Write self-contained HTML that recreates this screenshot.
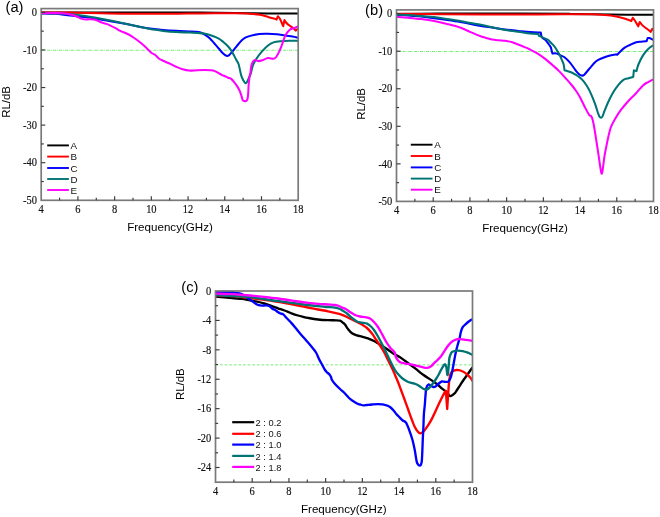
<!DOCTYPE html>
<html><head><meta charset="utf-8"><style>
html,body{margin:0;padding:0;background:#fff;}
body{width:660px;height:517px;overflow:hidden;font-family:"Liberation Sans",sans-serif;}
svg{display:block;}
.wc{will-change:transform;width:660px;height:517px;}
</style></head><body>
<div class="wc"><svg width="660" height="517" viewBox="0 0 660 517">
<defs><clipPath id="clipa"><rect x="41.20" y="7.60" width="257.00" height="192.70"/></clipPath><clipPath id="clipb"><rect x="396.50" y="8.90" width="257.00" height="192.50"/></clipPath><clipPath id="clipc"><rect x="215.50" y="290.00" width="257.00" height="192.20"/></clipPath></defs>
<rect width="660" height="517" fill="#fff"/>
<line x1="41.20" y1="50.25" x2="298.20" y2="50.25" stroke="#3ee83e" stroke-opacity="0.8" stroke-width="0.9" stroke-dasharray="3.2,0.9,0.7,1.1"/>
<line x1="396.50" y1="51.50" x2="653.50" y2="51.50" stroke="#3ee83e" stroke-opacity="0.8" stroke-width="0.9" stroke-dasharray="3.2,0.9,0.7,1.1"/>
<line x1="215.50" y1="364.84" x2="472.50" y2="364.84" stroke="#3ee83e" stroke-opacity="0.8" stroke-width="0.9" stroke-dasharray="2.6,2.0"/>
<path d="M41.30,12.60 C54.42,12.57 93.55,12.40 120.00,12.40 C146.45,12.40 178.33,12.45 200.00,12.60 C221.67,12.75 233.67,13.13 250.00,13.30 C266.33,13.47 290.00,13.55 298.00,13.60" fill="none" stroke="#000" stroke-width="2.05" stroke-linejoin="round" stroke-linecap="round" clip-path="url(#clipa)"/>
<path d="M41.30,12.40 C47.75,12.45 65.88,12.48 80.00,12.70 C94.12,12.92 111.00,13.52 126.00,13.70 C141.00,13.88 157.67,13.85 170.00,13.80 C182.33,13.75 189.12,13.50 200.00,13.40 C210.88,13.30 227.15,13.15 235.30,13.20 C243.45,13.25 244.82,13.43 248.90,13.70 C252.98,13.97 256.62,14.27 259.80,14.80 C262.98,15.33 265.63,16.27 268.00,16.90 C270.37,17.53 272.58,18.15 274.00,18.60 C275.42,19.05 276.08,19.43 276.50,19.60 L277.90,16.20 C278.25,16.67 279.12,17.33 280.00,19.00 C280.88,20.67 282.67,25.00 283.20,26.20 L284.40,20.10 C284.67,20.50 285.42,21.78 286.00,22.50 C286.58,23.22 287.32,23.90 287.90,24.40 C288.48,24.90 288.60,24.87 289.50,25.50 C290.40,26.13 292.27,27.35 293.30,28.20 C294.33,29.05 295.30,30.20 295.70,30.60 C296.02,30.33 297.22,29.30 297.60,29.00 C297.98,28.70 297.93,28.83 298.00,28.80" fill="none" stroke="#f00" stroke-width="2.05" stroke-linejoin="round" stroke-linecap="round" clip-path="url(#clipa)"/>
<path d="M41.30,13.40 C43.58,13.47 50.65,13.50 55.00,13.80 C59.35,14.10 63.57,14.77 67.40,15.20 C71.23,15.63 74.23,15.97 78.00,16.40 C81.77,16.83 86.57,17.33 90.00,17.80 C93.43,18.27 94.98,18.58 98.60,19.20 C102.22,19.82 107.47,20.77 111.70,21.50 C115.93,22.23 119.78,22.82 124.00,23.60 C128.22,24.38 132.67,25.37 137.00,26.20 C141.33,27.03 145.65,27.98 150.00,28.60 C154.35,29.22 158.75,29.53 163.10,29.90 C167.45,30.27 171.75,30.55 176.10,30.80 C180.45,31.05 186.05,31.25 189.20,31.40 C192.35,31.55 193.23,31.55 195.00,31.70 C196.77,31.85 198.10,31.78 199.80,32.30 C201.50,32.82 203.55,33.80 205.20,34.80 C206.85,35.80 208.20,36.90 209.70,38.30 C211.20,39.70 212.68,41.50 214.20,43.20 C215.72,44.90 217.40,46.87 218.80,48.50 C220.20,50.13 221.33,51.78 222.60,53.00 C223.87,54.22 225.30,55.45 226.40,55.80 C227.50,56.15 228.20,55.82 229.20,55.10 C230.20,54.38 231.10,53.05 232.40,51.50 C233.70,49.95 235.68,47.40 237.00,45.80 C238.32,44.20 239.30,42.98 240.30,41.90 C241.30,40.82 241.98,40.10 243.00,39.30 C244.02,38.50 244.58,37.83 246.40,37.10 C248.22,36.37 250.75,35.45 253.90,34.90 C257.05,34.35 261.50,33.92 265.30,33.80 C269.10,33.68 273.42,33.90 276.70,34.20 C279.98,34.50 282.37,35.20 285.00,35.60 C287.63,36.00 290.33,36.23 292.50,36.60 C294.67,36.97 297.08,37.60 298.00,37.80" fill="none" stroke="#00f" stroke-width="2.05" stroke-linejoin="round" stroke-linecap="round" clip-path="url(#clipa)"/>
<path d="M41.30,13.20 C44.33,13.25 54.28,13.28 59.50,13.50 C64.72,13.72 68.25,14.08 72.60,14.50 C76.95,14.92 81.27,15.38 85.60,16.00 C89.93,16.62 94.25,17.40 98.60,18.20 C102.95,19.00 107.47,19.93 111.70,20.80 C115.93,21.67 119.78,22.50 124.00,23.40 C128.22,24.30 132.67,25.25 137.00,26.20 C141.33,27.15 145.65,28.32 150.00,29.10 C154.35,29.88 158.75,30.40 163.10,30.90 C167.45,31.40 171.75,31.83 176.10,32.10 C180.45,32.37 185.62,32.35 189.20,32.50 C192.78,32.65 194.93,32.80 197.60,33.00 C200.27,33.20 202.68,33.20 205.20,33.70 C207.72,34.20 210.43,35.18 212.70,36.00 C214.97,36.82 217.03,37.60 218.80,38.60 C220.57,39.60 221.78,40.73 223.30,42.00 C224.82,43.27 226.63,44.87 227.90,46.20 C229.17,47.53 229.90,48.48 230.90,50.00 C231.90,51.52 233.02,53.67 233.90,55.30 C234.78,56.93 235.40,58.27 236.20,59.80 C237.00,61.33 237.87,61.90 238.70,64.50 C239.53,67.10 240.38,72.68 241.20,75.40 C242.02,78.12 242.88,79.50 243.60,80.80 C244.32,82.10 244.93,83.00 245.50,83.20 C246.07,83.40 246.42,82.92 247.00,82.00 C247.58,81.08 248.35,79.18 249.00,77.70 C249.65,76.22 250.23,75.18 250.90,73.10 C251.57,71.02 251.97,67.77 253.00,65.20 C254.03,62.63 255.52,60.08 257.10,57.70 C258.68,55.32 260.68,52.93 262.50,50.90 C264.32,48.87 266.17,46.92 268.00,45.50 C269.83,44.08 271.45,43.12 273.50,42.40 C275.55,41.68 277.58,41.48 280.30,41.20 C283.02,40.92 286.85,40.75 289.80,40.70 C292.75,40.65 296.63,40.87 298.00,40.90" fill="none" stroke="#007474" stroke-width="2.05" stroke-linejoin="round" stroke-linecap="round" clip-path="url(#clipa)"/>
<path d="M41.30,13.20 C43.25,13.18 49.43,13.08 53.00,13.10 C56.57,13.12 59.82,13.08 62.70,13.30 C65.58,13.52 68.02,13.90 70.30,14.40 C72.58,14.90 74.63,15.60 76.40,16.30 C78.17,17.00 79.38,18.08 80.90,18.60 C82.42,19.12 83.98,19.28 85.50,19.40 C87.02,19.52 88.25,19.20 90.00,19.30 C91.75,19.40 94.13,19.50 96.00,20.00 C97.87,20.50 99.45,21.65 101.20,22.30 C102.95,22.95 104.97,23.35 106.50,23.90 C108.03,24.45 108.88,24.88 110.40,25.60 C111.92,26.32 113.87,27.27 115.60,28.20 C117.33,29.13 119.07,30.35 120.80,31.20 C122.53,32.05 124.17,32.45 126.00,33.30 C127.83,34.15 130.07,35.27 131.80,36.30 C133.53,37.33 134.88,38.38 136.40,39.50 C137.92,40.62 139.38,41.75 140.90,43.00 C142.42,44.25 143.75,45.37 145.50,47.00 C147.25,48.63 149.77,51.47 151.40,52.80 C153.03,54.13 154.12,54.10 155.30,55.00 C156.48,55.90 157.20,57.23 158.50,58.20 C159.80,59.17 161.25,59.92 163.10,60.80 C164.95,61.68 167.43,62.52 169.60,63.50 C171.77,64.48 173.93,65.73 176.10,66.70 C178.27,67.67 180.42,68.65 182.60,69.30 C184.78,69.95 186.80,70.45 189.20,70.60 C191.60,70.75 194.40,70.30 197.00,70.20 C199.60,70.10 202.63,70.00 204.80,70.00 C206.97,70.00 208.33,70.02 210.00,70.20 C211.67,70.38 212.87,70.33 214.80,71.10 C216.73,71.87 219.90,73.95 221.60,74.80 C223.30,75.65 223.92,75.72 225.00,76.20 C226.08,76.68 227.07,77.25 228.10,77.70 C229.13,78.15 230.17,78.12 231.20,78.90 C232.23,79.68 233.27,81.12 234.30,82.40 C235.33,83.68 236.50,85.18 237.40,86.60 C238.30,88.02 239.00,89.28 239.70,90.90 C240.40,92.52 241.08,94.75 241.60,96.30 C242.12,97.85 242.15,99.37 242.80,100.20 C243.45,101.03 244.73,101.43 245.50,101.30 C246.27,101.17 246.95,100.75 247.40,99.40 C247.85,98.05 248.00,95.52 248.20,93.20 C248.40,90.88 248.40,88.08 248.60,85.50 C248.80,82.92 249.08,79.90 249.40,77.70 C249.72,75.50 250.13,74.50 250.50,72.30 C250.87,70.10 250.95,66.52 251.60,64.50 C252.25,62.48 253.25,60.77 254.40,60.20 C255.55,59.63 257.15,61.10 258.50,61.10 C259.85,61.10 260.92,60.72 262.50,60.20 C264.08,59.68 266.17,58.23 268.00,58.00 C269.83,57.77 272.13,58.97 273.50,58.80 C274.87,58.63 275.20,58.32 276.20,57.00 C277.20,55.68 278.50,53.05 279.50,50.90 C280.50,48.75 281.22,46.67 282.20,44.10 C283.18,41.53 284.13,37.88 285.40,35.50 C286.67,33.12 288.38,31.02 289.80,29.80 C291.22,28.58 292.53,28.77 293.90,28.20 C295.27,27.63 297.32,26.70 298.00,26.40" fill="none" stroke="#f0f" stroke-width="2.05" stroke-linejoin="round" stroke-linecap="round" clip-path="url(#clipa)"/>
<path d="M396.80,13.90 C405.67,13.85 429.47,13.65 450.00,13.60 C470.53,13.55 500.00,13.55 520.00,13.60 C540.00,13.65 555.00,13.73 570.00,13.90 C585.00,14.07 596.12,14.45 610.00,14.60 C623.88,14.75 646.08,14.77 653.30,14.80" fill="none" stroke="#000" stroke-width="2.05" stroke-linejoin="round" stroke-linecap="round" clip-path="url(#clipb)"/>
<path d="M396.80,13.80 C404.00,13.87 425.97,14.10 440.00,14.20 C454.03,14.30 467.67,14.33 481.00,14.40 C494.33,14.47 506.33,14.62 520.00,14.60 C533.67,14.58 551.18,14.35 563.00,14.30 C574.82,14.25 583.93,14.18 590.90,14.30 C597.87,14.42 600.62,14.65 604.80,15.00 C608.98,15.35 612.75,15.82 616.00,16.40 C619.25,16.98 621.75,17.73 624.30,18.50 C626.85,19.27 630.13,20.58 631.30,21.00 L632.70,17.80 C633.05,18.25 633.87,19.08 634.80,20.50 C635.73,21.92 637.72,25.33 638.30,26.30 L639.70,22.00 C640.17,22.57 641.58,24.48 642.50,25.40 C643.42,26.32 644.17,26.68 645.20,27.50 C646.23,28.32 647.77,29.58 648.70,30.30 C649.63,31.02 650.45,31.55 650.80,31.80 C651.03,31.32 651.78,29.20 652.20,28.90 C652.62,28.60 653.12,29.82 653.30,30.00" fill="none" stroke="#f00" stroke-width="2.05" stroke-linejoin="round" stroke-linecap="round" clip-path="url(#clipb)"/>
<path d="M396.80,15.00 C398.67,15.07 403.97,15.13 408.00,15.40 C412.03,15.67 416.65,16.13 421.00,16.60 C425.35,17.07 429.75,17.63 434.10,18.20 C438.45,18.77 442.75,19.37 447.10,20.00 C451.45,20.63 456.28,21.33 460.20,22.00 C464.12,22.67 467.13,23.33 470.60,24.00 C474.07,24.67 477.43,25.40 481.00,26.00 C484.57,26.60 487.98,27.02 492.00,27.60 C496.02,28.18 500.75,28.95 505.10,29.50 C509.45,30.05 513.95,30.47 518.10,30.90 C522.25,31.33 526.22,31.82 530.00,32.10 C533.78,32.38 539.00,32.52 540.80,32.60 C540.87,33.02 540.93,34.23 541.20,35.10 C541.47,35.97 541.68,36.97 542.40,37.80 C543.12,38.63 544.47,39.07 545.50,40.10 C546.53,41.13 547.70,42.78 548.60,44.00 C549.50,45.22 550.52,46.83 550.90,47.40 L552.40,53.60 C552.80,53.55 554.02,53.30 554.80,53.30 C555.58,53.30 556.07,53.22 557.10,53.60 C558.13,53.98 559.72,54.95 561.00,55.60 C562.28,56.25 563.30,56.33 564.80,57.50 C566.30,58.67 568.27,60.55 570.00,62.60 C571.73,64.65 573.68,67.85 575.20,69.80 C576.72,71.75 578.02,73.33 579.10,74.30 C580.18,75.27 580.83,75.53 581.70,75.60 C582.57,75.67 583.00,75.88 584.30,74.70 C585.60,73.52 587.53,70.73 589.50,68.50 C591.47,66.27 593.92,63.05 596.10,61.30 C598.28,59.55 600.43,58.93 602.60,58.00 C604.77,57.07 606.93,56.30 609.10,55.70 C611.27,55.10 614.25,54.55 615.60,54.40 C616.95,54.25 616.93,54.73 617.20,54.80 C617.80,54.15 619.55,52.10 620.80,50.90 C622.05,49.70 623.18,48.58 624.70,47.60 C626.22,46.62 628.10,45.83 629.90,45.00 C631.70,44.17 633.63,43.15 635.50,42.60 C637.37,42.05 639.25,41.93 641.10,41.70 C642.95,41.47 645.68,41.28 646.60,41.20 L647.70,38.00 C647.98,38.00 648.65,37.77 649.40,38.00 C650.15,38.23 651.55,39.10 652.20,39.40 C652.85,39.70 653.12,39.73 653.30,39.80" fill="none" stroke="#00f" stroke-width="2.05" stroke-linejoin="round" stroke-linecap="round" clip-path="url(#clipb)"/>
<path d="M396.80,14.80 C398.67,14.83 403.97,14.80 408.00,15.00 C412.03,15.20 416.65,15.65 421.00,16.00 C425.35,16.35 429.75,16.58 434.10,17.10 C438.45,17.62 442.75,18.45 447.10,19.10 C451.45,19.75 456.28,20.35 460.20,21.00 C464.12,21.65 467.13,22.37 470.60,23.00 C474.07,23.63 477.43,24.08 481.00,24.80 C484.57,25.52 487.98,26.45 492.00,27.30 C496.02,28.15 500.75,29.17 505.10,29.90 C509.45,30.63 513.95,31.08 518.10,31.70 C522.25,32.32 526.60,33.23 530.00,33.60 C533.40,33.97 537.08,33.85 538.50,33.90 L538.90,35.80 C539.48,36.07 540.92,36.75 542.40,37.40 C543.88,38.05 546.38,38.80 547.80,39.70 C549.22,40.60 549.87,41.77 550.90,42.80 C551.93,43.83 552.97,44.62 554.00,45.90 C555.03,47.18 556.07,48.82 557.10,50.50 C558.13,52.18 559.40,54.38 560.20,56.00 C561.00,57.62 561.33,58.83 561.90,60.20 C562.47,61.57 563.17,62.53 563.60,64.20 C564.03,65.87 564.35,69.20 564.50,70.20 C564.97,70.35 566.12,70.72 567.30,71.10 C568.48,71.48 570.15,71.87 571.60,72.50 C573.05,73.13 574.65,74.08 576.00,74.90 C577.35,75.72 578.57,76.48 579.70,77.40 C580.83,78.32 581.88,79.38 582.80,80.40 C583.72,81.42 584.38,82.35 585.20,83.50 C586.02,84.65 586.97,86.07 587.70,87.30 C588.43,88.53 588.77,89.15 589.60,90.90 C590.43,92.65 591.70,95.38 592.70,97.80 C593.70,100.22 594.70,102.80 595.60,105.40 C596.50,108.00 597.37,111.42 598.10,113.40 C598.83,115.38 599.32,116.70 600.00,117.30 C600.68,117.90 601.47,118.02 602.20,117.00 C602.93,115.98 603.43,113.62 604.40,111.20 C605.37,108.78 606.67,105.42 608.00,102.50 C609.33,99.58 610.70,96.58 612.40,93.70 C614.10,90.82 616.37,87.50 618.20,85.20 C620.03,82.90 621.67,81.07 623.40,79.90 C625.13,78.73 626.97,78.70 628.60,78.20 C630.23,77.70 632.43,77.12 633.20,76.90 L633.90,70.40 L636.50,71.10 C636.82,70.00 637.32,67.12 638.40,64.50 C639.48,61.88 641.37,58.00 643.00,55.40 C644.63,52.80 646.48,50.58 648.20,48.90 C649.92,47.22 652.45,45.90 653.30,45.30" fill="none" stroke="#007474" stroke-width="2.05" stroke-linejoin="round" stroke-linecap="round" clip-path="url(#clipb)"/>
<path d="M396.80,16.90 C398.67,17.05 403.97,17.43 408.00,17.80 C412.03,18.17 416.65,18.57 421.00,19.10 C425.35,19.63 429.75,20.20 434.10,21.00 C438.45,21.80 442.75,22.82 447.10,23.90 C451.45,24.98 456.28,26.13 460.20,27.50 C464.12,28.87 467.30,30.68 470.60,32.10 C473.90,33.52 477.52,35.07 480.00,36.00 C482.48,36.93 483.50,37.12 485.50,37.70 C487.50,38.28 489.83,39.07 492.00,39.50 C494.17,39.93 496.32,40.08 498.50,40.30 C500.68,40.52 502.92,40.50 505.10,40.80 C507.28,41.10 509.43,41.48 511.60,42.10 C513.77,42.72 515.93,43.67 518.10,44.50 C520.27,45.33 522.62,46.27 524.60,47.10 C526.58,47.93 527.82,48.42 530.00,49.50 C532.18,50.58 535.12,52.00 537.70,53.60 C540.28,55.20 543.02,57.17 545.50,59.10 C547.98,61.03 550.33,63.20 552.60,65.20 C554.87,67.20 556.93,68.93 559.10,71.10 C561.27,73.27 563.52,75.88 565.60,78.20 C567.68,80.52 569.87,82.90 571.60,85.00 C573.33,87.10 574.53,88.62 576.00,90.80 C577.47,92.98 578.95,95.43 580.40,98.10 C581.85,100.77 583.25,104.02 584.70,106.80 C586.15,109.58 588.00,113.22 589.10,114.80 C590.20,116.38 590.70,115.45 591.30,116.30 C591.90,117.15 592.22,118.08 592.70,119.90 C593.18,121.72 593.53,123.35 594.20,127.20 C594.87,131.05 595.95,138.18 596.70,143.00 C597.45,147.82 598.12,152.18 598.70,156.10 C599.28,160.02 599.73,163.60 600.20,166.50 C600.67,169.40 601.10,172.85 601.50,173.50 C601.90,174.15 602.10,173.30 602.60,170.40 C603.10,167.50 603.85,160.23 604.50,156.10 C605.15,151.97 605.85,148.87 606.50,145.60 C607.15,142.33 607.67,139.57 608.40,136.50 C609.13,133.43 609.75,130.20 610.90,127.20 C612.05,124.20 613.60,121.42 615.30,118.50 C617.00,115.58 618.92,112.62 621.10,109.70 C623.28,106.78 625.98,103.67 628.40,101.00 C630.82,98.33 633.17,96.30 635.60,93.70 C638.03,91.10 640.90,87.33 643.00,85.40 C645.10,83.47 646.48,83.08 648.20,82.10 C649.92,81.12 652.45,79.93 653.30,79.50" fill="none" stroke="#f0f" stroke-width="2.05" stroke-linejoin="round" stroke-linecap="round" clip-path="url(#clipb)"/>
<path d="M215.80,296.60 C217.17,296.73 221.27,297.15 224.00,297.40 C226.73,297.65 229.53,297.87 232.20,298.10 C234.87,298.33 237.70,298.57 240.00,298.80 C242.30,299.03 243.48,299.08 246.00,299.50 C248.52,299.92 252.07,300.63 255.10,301.30 C258.13,301.97 261.17,302.62 264.20,303.50 C267.23,304.38 271.00,305.80 273.30,306.60 C275.60,307.40 276.38,307.73 278.00,308.30 C279.62,308.87 281.33,309.42 283.00,310.00 C284.67,310.58 286.58,311.25 288.00,311.80 C289.42,312.35 289.83,312.68 291.50,313.30 C293.17,313.92 296.08,314.92 298.00,315.50 C299.92,316.08 301.33,316.40 303.00,316.80 C304.67,317.20 305.50,317.45 308.00,317.90 C310.50,318.35 314.67,319.12 318.00,319.50 C321.33,319.88 325.00,320.07 328.00,320.20 C331.00,320.33 334.00,320.22 336.00,320.30 C338.00,320.38 338.92,320.35 340.00,320.70 C341.08,321.05 341.67,321.75 342.50,322.40 C343.33,323.05 344.08,323.50 345.00,324.60 C345.92,325.70 346.83,327.57 348.00,329.00 C349.17,330.43 350.50,332.15 352.00,333.20 C353.50,334.25 355.33,334.73 357.00,335.30 C358.67,335.87 360.17,336.10 362.00,336.60 C363.83,337.10 366.00,337.57 368.00,338.30 C370.00,339.03 372.17,340.05 374.00,341.00 C375.83,341.95 377.33,343.00 379.00,344.00 C380.67,345.00 382.33,345.92 384.00,347.00 C385.67,348.08 387.33,349.33 389.00,350.50 C390.67,351.67 392.17,352.87 394.00,354.00 C395.83,355.13 397.72,355.83 400.00,357.30 C402.28,358.77 405.12,360.92 407.70,362.80 C410.28,364.68 412.92,366.60 415.50,368.60 C418.08,370.60 420.62,372.92 423.20,374.80 C425.78,376.68 428.68,378.33 431.00,379.90 C433.32,381.47 435.30,382.80 437.10,384.20 C438.90,385.60 440.50,387.22 441.80,388.30 C443.10,389.38 444.00,389.98 444.90,390.70 C445.80,391.42 446.55,391.88 447.20,392.60 C447.85,393.32 448.28,394.42 448.80,395.00 C449.32,395.58 449.67,396.10 450.30,396.10 C450.93,396.10 451.82,395.52 452.60,395.00 C453.38,394.48 454.22,393.92 455.00,393.00 C455.78,392.08 456.40,390.87 457.30,389.50 C458.20,388.13 459.37,386.38 460.40,384.80 C461.43,383.22 462.47,381.50 463.50,380.00 C464.53,378.50 465.53,377.30 466.60,375.80 C467.67,374.30 468.95,372.33 469.90,371.00 C470.85,369.67 471.90,368.33 472.30,367.80" fill="none" stroke="#000" stroke-width="2.35" stroke-linejoin="round" stroke-linecap="round" clip-path="url(#clipc)"/>
<path d="M215.80,295.30 C219.53,295.52 233.17,296.20 238.20,296.60 C243.23,297.00 243.37,297.38 246.00,297.70 C248.63,298.02 250.97,298.13 254.00,298.50 C257.03,298.87 261.03,299.48 264.20,299.90 C267.37,300.32 269.97,300.55 273.00,301.00 C276.03,301.45 279.90,302.17 282.40,302.60 C284.90,303.03 285.40,303.12 288.00,303.60 C290.60,304.08 294.67,304.85 298.00,305.50 C301.33,306.15 304.67,306.83 308.00,307.50 C311.33,308.17 314.67,308.87 318.00,309.50 C321.33,310.13 324.67,310.62 328.00,311.30 C331.33,311.98 335.67,313.02 338.00,313.60 C340.33,314.18 340.50,314.23 342.00,314.80 C343.50,315.37 345.33,316.22 347.00,317.00 C348.67,317.78 350.33,318.67 352.00,319.50 C353.67,320.33 355.33,321.15 357.00,322.00 C358.67,322.85 360.33,323.60 362.00,324.60 C363.67,325.60 365.33,326.52 367.00,328.00 C368.67,329.48 370.50,331.58 372.00,333.50 C373.50,335.42 374.67,337.50 376.00,339.50 C377.33,341.50 378.67,343.42 380.00,345.50 C381.33,347.58 382.67,349.58 384.00,352.00 C385.33,354.42 386.67,357.33 388.00,360.00 C389.33,362.67 390.83,365.50 392.00,368.00 C393.17,370.50 394.00,372.67 395.00,375.00 C396.00,377.33 397.00,379.50 398.00,382.00 C399.00,384.50 400.00,387.33 401.00,390.00 C402.00,392.67 402.83,394.83 404.00,398.00 C405.17,401.17 406.80,405.67 408.00,409.00 C409.20,412.33 410.08,415.03 411.20,418.00 C412.32,420.97 413.58,424.50 414.70,426.80 C415.82,429.10 416.97,430.72 417.90,431.80 C418.83,432.88 419.38,433.33 420.30,433.30 C421.22,433.27 422.17,432.83 423.40,431.60 C424.63,430.37 426.27,428.07 427.70,425.90 C429.13,423.73 430.70,421.05 432.00,418.60 C433.30,416.15 434.25,413.87 435.50,411.20 C436.75,408.53 438.32,405.08 439.50,402.60 C440.68,400.12 441.70,398.07 442.60,396.30 C443.50,394.53 444.35,392.83 444.90,392.00 C445.45,391.17 445.73,391.42 445.90,391.30 L447.20,409.00 C447.43,405.43 448.20,392.77 448.60,387.60 C449.00,382.43 449.15,380.52 449.60,378.00 C450.05,375.48 450.48,373.78 451.30,372.50 C452.12,371.22 453.25,370.68 454.50,370.30 C455.75,369.92 457.32,369.95 458.80,370.20 C460.28,370.45 461.98,371.07 463.40,371.80 C464.82,372.53 466.13,373.62 467.30,374.60 C468.47,375.58 469.57,376.70 470.40,377.70 C471.23,378.70 471.98,380.12 472.30,380.60" fill="none" stroke="#f00" stroke-width="2.35" stroke-linejoin="round" stroke-linecap="round" clip-path="url(#clipc)"/>
<path d="M215.80,292.20 C216.50,292.15 218.28,291.97 220.00,291.90 C221.72,291.83 224.43,291.78 226.10,291.80 C227.77,291.82 228.48,291.87 230.00,292.00 C231.52,292.13 233.32,292.28 235.20,292.60 C237.08,292.92 239.25,293.05 241.30,293.90 C243.35,294.75 245.80,296.57 247.50,297.70 C249.20,298.83 250.23,299.78 251.50,300.70 C252.77,301.62 253.90,302.45 255.10,303.20 C256.30,303.95 257.48,304.80 258.70,305.20 C259.92,305.60 261.18,305.57 262.40,305.60 C263.62,305.63 264.80,305.28 266.00,305.40 C267.20,305.52 268.53,305.75 269.60,306.30 C270.67,306.85 271.48,308.10 272.40,308.70 C273.32,309.30 274.20,309.35 275.10,309.90 C276.00,310.45 276.90,311.40 277.80,312.00 C278.70,312.60 279.58,313.10 280.50,313.50 C281.42,313.90 282.23,313.60 283.30,314.40 C284.37,315.20 285.53,316.85 286.90,318.30 C288.27,319.75 289.98,321.40 291.50,323.10 C293.02,324.80 294.50,326.68 296.00,328.50 C297.50,330.32 298.83,332.05 300.50,334.00 C302.17,335.95 304.25,338.20 306.00,340.20 C307.75,342.20 309.33,343.95 311.00,346.00 C312.67,348.05 314.67,350.33 316.00,352.50 C317.33,354.67 318.00,357.00 319.00,359.00 C320.00,361.00 321.00,362.67 322.00,364.50 C323.00,366.33 324.17,368.70 325.00,370.00 C325.83,371.30 326.25,371.55 327.00,372.30 C327.75,373.05 328.83,373.72 329.50,374.50 C330.17,375.28 330.58,376.08 331.00,377.00 C331.42,377.92 331.33,378.83 332.00,380.00 C332.67,381.17 333.67,382.50 335.00,384.00 C336.33,385.50 338.50,387.58 340.00,389.00 C341.50,390.42 342.50,391.00 344.00,392.50 C345.50,394.00 347.50,396.58 349.00,398.00 C350.50,399.42 351.67,400.08 353.00,401.00 C354.33,401.92 355.83,402.92 357.00,403.50 C358.17,404.08 358.92,404.18 360.00,404.50 C361.08,404.82 362.33,405.32 363.50,405.40 C364.67,405.48 365.58,405.15 367.00,405.00 C368.42,404.85 370.17,404.65 372.00,404.50 C373.83,404.35 376.33,404.12 378.00,404.10 C379.67,404.08 380.83,404.25 382.00,404.40 C383.17,404.55 383.67,404.57 385.00,405.00 C386.33,405.43 388.50,406.00 390.00,407.00 C391.50,408.00 392.95,409.83 394.00,411.00 C395.05,412.17 395.38,412.95 396.30,414.00 C397.22,415.05 398.42,416.22 399.50,417.30 C400.58,418.38 401.72,419.60 402.80,420.50 C403.88,421.40 404.92,421.07 406.00,422.70 C407.08,424.33 408.22,427.42 409.30,430.30 C410.38,433.18 411.60,436.75 412.50,440.00 C413.40,443.25 414.07,446.55 414.70,449.80 C415.33,453.05 415.85,457.22 416.30,459.50 C416.75,461.78 416.77,462.50 417.40,463.50 C418.03,464.50 419.38,465.80 420.10,465.50 C420.82,465.20 421.33,463.97 421.70,461.70 C422.07,459.43 422.12,455.70 422.30,451.90 C422.48,448.10 422.62,443.05 422.80,438.90 C422.98,434.75 423.22,431.15 423.40,427.00 C423.58,422.85 423.67,417.67 423.90,414.00 C424.13,410.33 424.53,408.12 424.80,405.00 C425.07,401.88 425.25,398.13 425.50,395.30 C425.75,392.47 425.83,389.78 426.30,388.00 C426.77,386.22 427.65,385.05 428.30,384.60 C428.95,384.15 429.37,384.90 430.20,385.30 C431.03,385.70 432.40,386.82 433.30,387.00 C434.20,387.18 434.70,386.98 435.60,386.40 C436.50,385.82 437.67,384.32 438.70,383.50 C439.73,382.68 440.77,381.78 441.80,381.50 C442.83,381.22 443.87,381.75 444.90,381.80 C445.93,381.85 447.22,382.13 448.00,381.80 C448.78,381.47 449.12,380.60 449.60,379.80 C450.08,379.00 450.50,378.22 450.90,377.00 C451.30,375.78 451.58,374.50 452.00,372.50 C452.42,370.50 452.82,368.13 453.40,365.00 C453.98,361.87 454.82,356.95 455.50,353.70 C456.18,350.45 456.82,348.08 457.50,345.50 C458.18,342.92 459.05,340.40 459.60,338.20 C460.15,336.00 460.28,334.13 460.80,332.30 C461.32,330.47 461.87,328.57 462.70,327.20 C463.53,325.83 464.78,325.05 465.80,324.10 C466.82,323.15 467.77,322.28 468.80,321.50 C469.83,320.72 471.47,319.75 472.00,319.40" fill="none" stroke="#00f" stroke-width="2.35" stroke-linejoin="round" stroke-linecap="round" clip-path="url(#clipc)"/>
<path d="M215.80,295.20 C219.50,295.38 232.97,296.03 238.00,296.30 C243.03,296.57 243.33,296.60 246.00,296.80 C248.67,297.00 251.00,297.13 254.00,297.50 C257.00,297.87 260.78,298.50 264.00,299.00 C267.22,299.50 270.97,300.17 273.30,300.50 C275.63,300.83 275.55,300.70 278.00,301.00 C280.45,301.30 284.67,301.85 288.00,302.30 C291.33,302.75 294.67,303.25 298.00,303.70 C301.33,304.15 304.67,304.58 308.00,305.00 C311.33,305.42 314.67,305.87 318.00,306.20 C321.33,306.53 325.17,306.77 328.00,307.00 C330.83,307.23 333.00,307.27 335.00,307.60 C337.00,307.93 338.83,308.55 340.00,309.00 C341.17,309.45 340.83,309.55 342.00,310.30 C343.17,311.05 345.33,312.22 347.00,313.50 C348.67,314.78 350.33,316.67 352.00,318.00 C353.67,319.33 355.33,320.73 357.00,321.50 C358.67,322.27 360.33,322.23 362.00,322.60 C363.67,322.97 365.50,323.05 367.00,323.70 C368.50,324.35 369.83,325.45 371.00,326.50 C372.17,327.55 372.83,328.33 374.00,330.00 C375.17,331.67 376.67,334.17 378.00,336.50 C379.33,338.83 380.83,341.75 382.00,344.00 C383.17,346.25 383.83,347.58 385.00,350.00 C386.17,352.42 387.75,355.92 389.00,358.50 C390.25,361.08 391.48,363.53 392.50,365.50 C393.52,367.47 394.03,368.72 395.10,370.30 C396.17,371.88 397.62,373.58 398.90,375.00 C400.18,376.42 401.33,377.68 402.80,378.80 C404.27,379.92 406.23,381.02 407.70,381.70 C409.17,382.38 410.30,382.52 411.60,382.90 C412.90,383.28 414.22,383.48 415.50,384.00 C416.78,384.52 418.02,385.22 419.30,386.00 C420.58,386.78 421.92,388.12 423.20,388.70 C424.48,389.28 425.87,389.78 427.00,389.50 C428.13,389.22 429.00,388.03 430.00,387.00 C431.00,385.97 432.00,384.63 433.00,383.30 C434.00,381.97 435.00,380.55 436.00,379.00 C437.00,377.45 438.17,375.50 439.00,374.00 C439.83,372.50 440.28,371.32 441.00,370.00 C441.72,368.68 442.62,367.07 443.30,366.10 C443.98,365.13 444.58,363.95 445.10,364.20 C445.62,364.45 446.03,365.88 446.40,367.60 C446.77,369.32 447.05,373.47 447.30,374.50 C447.55,375.53 447.67,375.20 447.90,373.80 C448.13,372.40 448.47,368.65 448.70,366.10 C448.93,363.55 449.00,360.43 449.30,358.50 C449.60,356.57 449.98,355.62 450.50,354.50 C451.02,353.38 451.23,352.45 452.40,351.80 C453.57,351.15 455.78,350.72 457.50,350.60 C459.22,350.48 460.98,350.75 462.70,351.10 C464.42,351.45 466.25,352.10 467.80,352.70 C469.35,353.30 471.30,354.37 472.00,354.70" fill="none" stroke="#007474" stroke-width="2.35" stroke-linejoin="round" stroke-linecap="round" clip-path="url(#clipc)"/>
<path d="M215.80,293.60 C218.53,293.70 227.17,293.93 232.20,294.20 C237.23,294.47 242.37,294.92 246.00,295.20 C249.63,295.48 250.17,295.52 254.00,295.90 C257.83,296.28 265.00,297.07 269.00,297.50 C273.00,297.93 274.83,298.08 278.00,298.50 C281.17,298.92 284.67,299.50 288.00,300.00 C291.33,300.50 294.67,301.03 298.00,301.50 C301.33,301.97 304.67,302.42 308.00,302.80 C311.33,303.18 314.67,303.52 318.00,303.80 C321.33,304.08 325.17,304.30 328.00,304.50 C330.83,304.70 333.17,304.75 335.00,305.00 C336.83,305.25 337.83,305.57 339.00,306.00 C340.17,306.43 340.83,307.07 342.00,307.60 C343.17,308.13 344.67,308.47 346.00,309.20 C347.33,309.93 348.50,311.03 350.00,312.00 C351.50,312.97 353.33,314.25 355.00,315.00 C356.67,315.75 358.17,316.12 360.00,316.50 C361.83,316.88 364.33,316.95 366.00,317.30 C367.67,317.65 368.67,317.82 370.00,318.60 C371.33,319.38 372.67,320.60 374.00,322.00 C375.33,323.40 377.00,325.58 378.00,327.00 C379.00,328.42 379.33,329.33 380.00,330.50 C380.67,331.67 381.00,332.17 382.00,334.00 C383.00,335.83 384.67,339.25 386.00,341.50 C387.33,343.75 388.83,346.00 390.00,347.50 C391.17,349.00 392.17,349.58 393.00,350.50 C393.83,351.42 394.58,352.08 395.00,353.00 C395.42,353.92 395.10,354.90 395.50,356.00 C395.90,357.10 396.70,358.60 397.40,359.60 C398.10,360.60 398.67,361.40 399.70,362.00 C400.73,362.60 402.27,362.88 403.60,363.20 C404.93,363.52 405.72,363.52 407.70,363.90 C409.68,364.28 412.92,364.92 415.50,365.50 C418.08,366.08 421.27,367.02 423.20,367.40 C425.13,367.78 425.80,368.00 427.10,367.80 C428.40,367.60 429.72,367.10 431.00,366.20 C432.28,365.30 433.30,363.83 434.80,362.40 C436.30,360.97 438.45,359.40 440.00,357.60 C441.55,355.80 442.73,353.62 444.10,351.60 C445.47,349.58 446.82,347.22 448.20,345.50 C449.58,343.78 451.02,342.33 452.40,341.30 C453.78,340.27 455.13,339.67 456.50,339.30 C457.87,338.93 459.05,339.02 460.60,339.10 C462.15,339.18 463.90,339.52 465.80,339.80 C467.70,340.08 470.97,340.63 472.00,340.80" fill="none" stroke="#f0f" stroke-width="2.35" stroke-linejoin="round" stroke-linecap="round" clip-path="url(#clipc)"/>
<text x="5.5" y="11.7" font-family="Liberation Sans, sans-serif" font-size="14.7">(a)</text>
<text x="365.1" y="14.7" font-family="Liberation Sans, sans-serif" font-size="14.7">(b)</text>
<text x="181.3" y="291.7" font-family="Liberation Sans, sans-serif" font-size="14.7">(c)</text>
<text transform="translate(9.6,102) rotate(-90)" text-anchor="middle" font-family="Liberation Sans, sans-serif" font-size="11.4">RL/dB</text>
<text transform="translate(364.8,104) rotate(-90)" text-anchor="middle" font-family="Liberation Sans, sans-serif" font-size="11.4">RL/dB</text>
<text transform="translate(184.2,384.2) rotate(-90)" text-anchor="middle" font-family="Liberation Sans, sans-serif" font-size="11.4">RL/dB</text>
<text x="170" y="230.9" text-anchor="middle" font-family="Liberation Sans, sans-serif" font-size="11.6">Frequency(GHz)</text>
<text x="525" y="232.3" text-anchor="middle" font-family="Liberation Sans, sans-serif" font-size="11.6">Frequency(GHz)</text>
<text x="343.8" y="513.3" text-anchor="middle" font-family="Liberation Sans, sans-serif" font-size="11.6">Frequency(GHz)</text>
<line x1="47.2" y1="145.4" x2="68.9" y2="145.4" stroke="#000" stroke-width="1.9"/>
<text x="70.4" y="149.00" font-family="Liberation Sans, sans-serif" font-size="9.8" fill="#111">A</text>
<line x1="47.2" y1="156.6" x2="68.9" y2="156.6" stroke="#f00" stroke-width="1.9"/>
<text x="70.4" y="160.20" font-family="Liberation Sans, sans-serif" font-size="9.8" fill="#111">B</text>
<line x1="47.2" y1="168" x2="68.9" y2="168" stroke="#00f" stroke-width="1.9"/>
<text x="70.4" y="171.60" font-family="Liberation Sans, sans-serif" font-size="9.8" fill="#111">C</text>
<line x1="47.2" y1="179" x2="68.9" y2="179" stroke="#007474" stroke-width="1.9"/>
<text x="70.4" y="182.60" font-family="Liberation Sans, sans-serif" font-size="9.8" fill="#111">D</text>
<line x1="47.2" y1="190" x2="68.9" y2="190" stroke="#f0f" stroke-width="1.9"/>
<text x="70.4" y="193.60" font-family="Liberation Sans, sans-serif" font-size="9.8" fill="#111">E</text>
<line x1="410.8" y1="144.7" x2="432.5" y2="144.7" stroke="#000" stroke-width="1.9"/>
<text x="434.2" y="148.30" font-family="Liberation Sans, sans-serif" font-size="9.8" fill="#111">A</text>
<line x1="410.8" y1="156.0" x2="432.5" y2="156.0" stroke="#f00" stroke-width="1.9"/>
<text x="434.2" y="159.60" font-family="Liberation Sans, sans-serif" font-size="9.8" fill="#111">B</text>
<line x1="410.8" y1="167.4" x2="432.5" y2="167.4" stroke="#00f" stroke-width="1.9"/>
<text x="434.2" y="171.00" font-family="Liberation Sans, sans-serif" font-size="9.8" fill="#111">C</text>
<line x1="410.8" y1="178.6" x2="432.5" y2="178.6" stroke="#007474" stroke-width="1.9"/>
<text x="434.2" y="182.20" font-family="Liberation Sans, sans-serif" font-size="9.8" fill="#111">D</text>
<line x1="410.8" y1="189.7" x2="432.5" y2="189.7" stroke="#f0f" stroke-width="1.9"/>
<text x="434.2" y="193.30" font-family="Liberation Sans, sans-serif" font-size="9.8" fill="#111">E</text>
<line x1="232.2" y1="422.2" x2="254.2" y2="422.2" stroke="#000" stroke-width="2.2"/>
<text x="255.6" y="425.80" font-family="Liberation Sans, sans-serif" font-size="9.3" fill="#111">2 : 0.2</text>
<line x1="232.2" y1="433.8" x2="254.2" y2="433.8" stroke="#f00" stroke-width="2.2"/>
<text x="255.6" y="437.40" font-family="Liberation Sans, sans-serif" font-size="9.3" fill="#111">2 : 0.6</text>
<line x1="232.2" y1="444.6" x2="254.2" y2="444.6" stroke="#00f" stroke-width="2.2"/>
<text x="255.6" y="448.20" font-family="Liberation Sans, sans-serif" font-size="9.3" fill="#111">2 : 1.0</text>
<line x1="232.2" y1="455.9" x2="254.2" y2="455.9" stroke="#007474" stroke-width="2.2"/>
<text x="255.6" y="459.50" font-family="Liberation Sans, sans-serif" font-size="9.3" fill="#111">2 : 1.4</text>
<line x1="232.2" y1="466.9" x2="254.2" y2="466.9" stroke="#f0f" stroke-width="2.2"/>
<text x="255.6" y="470.50" font-family="Liberation Sans, sans-serif" font-size="9.3" fill="#111">2 : 1.8</text>
<rect x="41.20" y="8.60" width="257.00" height="191.70" fill="none" stroke="#7a7a7a" stroke-width="1.7"/>
<rect x="396.50" y="9.90" width="257.00" height="191.50" fill="none" stroke="#7a7a7a" stroke-width="1.7"/>
<rect x="215.50" y="291.00" width="257.00" height="191.20" fill="none" stroke="#7a7a7a" stroke-width="1.7"/>
<text transform="translate(41.20,212.90) scale(0.95,1.08)" text-anchor="middle" font-family="Liberation Serif, serif" font-size="11" fill="#111" stroke="#111" stroke-width="0.16">4</text>
<line x1="59.56" y1="200.30" x2="59.56" y2="197.70" stroke="#3a3a3a" stroke-width="1.15"/>
<line x1="77.91" y1="200.30" x2="77.91" y2="196.20" stroke="#3a3a3a" stroke-width="1.15"/>
<text transform="translate(77.91,212.90) scale(0.95,1.08)" text-anchor="middle" font-family="Liberation Serif, serif" font-size="11" fill="#111" stroke="#111" stroke-width="0.16">6</text>
<line x1="96.27" y1="200.30" x2="96.27" y2="197.70" stroke="#3a3a3a" stroke-width="1.15"/>
<line x1="114.63" y1="200.30" x2="114.63" y2="196.20" stroke="#3a3a3a" stroke-width="1.15"/>
<text transform="translate(114.63,212.90) scale(0.95,1.08)" text-anchor="middle" font-family="Liberation Serif, serif" font-size="11" fill="#111" stroke="#111" stroke-width="0.16">8</text>
<line x1="132.99" y1="200.30" x2="132.99" y2="197.70" stroke="#3a3a3a" stroke-width="1.15"/>
<line x1="151.34" y1="200.30" x2="151.34" y2="196.20" stroke="#3a3a3a" stroke-width="1.15"/>
<text transform="translate(151.34,212.90) scale(0.95,1.08)" text-anchor="middle" font-family="Liberation Serif, serif" font-size="11" fill="#111" stroke="#111" stroke-width="0.16">10</text>
<line x1="169.70" y1="200.30" x2="169.70" y2="197.70" stroke="#3a3a3a" stroke-width="1.15"/>
<line x1="188.06" y1="200.30" x2="188.06" y2="196.20" stroke="#3a3a3a" stroke-width="1.15"/>
<text transform="translate(188.06,212.90) scale(0.95,1.08)" text-anchor="middle" font-family="Liberation Serif, serif" font-size="11" fill="#111" stroke="#111" stroke-width="0.16">12</text>
<line x1="206.41" y1="200.30" x2="206.41" y2="197.70" stroke="#3a3a3a" stroke-width="1.15"/>
<line x1="224.77" y1="200.30" x2="224.77" y2="196.20" stroke="#3a3a3a" stroke-width="1.15"/>
<text transform="translate(224.77,212.90) scale(0.95,1.08)" text-anchor="middle" font-family="Liberation Serif, serif" font-size="11" fill="#111" stroke="#111" stroke-width="0.16">14</text>
<line x1="243.13" y1="200.30" x2="243.13" y2="197.70" stroke="#3a3a3a" stroke-width="1.15"/>
<line x1="261.49" y1="200.30" x2="261.49" y2="196.20" stroke="#3a3a3a" stroke-width="1.15"/>
<text transform="translate(261.49,212.90) scale(0.95,1.08)" text-anchor="middle" font-family="Liberation Serif, serif" font-size="11" fill="#111" stroke="#111" stroke-width="0.16">16</text>
<line x1="279.84" y1="200.30" x2="279.84" y2="197.70" stroke="#3a3a3a" stroke-width="1.15"/>
<text transform="translate(298.20,212.90) scale(0.95,1.08)" text-anchor="middle" font-family="Liberation Serif, serif" font-size="11" fill="#111" stroke="#111" stroke-width="0.16">18</text>
<line x1="41.20" y1="12.36" x2="45.30" y2="12.36" stroke="#3a3a3a" stroke-width="1.15"/>
<text transform="translate(37.00,16.06) scale(0.95,1.08)" text-anchor="end" font-family="Liberation Serif, serif" font-size="11" fill="#111" stroke="#111" stroke-width="0.16">0</text>
<line x1="41.20" y1="49.95" x2="45.30" y2="49.95" stroke="#3a3a3a" stroke-width="1.15"/>
<text transform="translate(37.00,53.65) scale(0.95,1.08)" text-anchor="end" font-family="Liberation Serif, serif" font-size="11" fill="#111" stroke="#111" stroke-width="0.16">-10</text>
<line x1="41.20" y1="87.54" x2="45.30" y2="87.54" stroke="#3a3a3a" stroke-width="1.15"/>
<text transform="translate(37.00,91.24) scale(0.95,1.08)" text-anchor="end" font-family="Liberation Serif, serif" font-size="11" fill="#111" stroke="#111" stroke-width="0.16">-20</text>
<line x1="41.20" y1="125.12" x2="45.30" y2="125.12" stroke="#3a3a3a" stroke-width="1.15"/>
<text transform="translate(37.00,128.82) scale(0.95,1.08)" text-anchor="end" font-family="Liberation Serif, serif" font-size="11" fill="#111" stroke="#111" stroke-width="0.16">-30</text>
<line x1="41.20" y1="162.71" x2="45.30" y2="162.71" stroke="#3a3a3a" stroke-width="1.15"/>
<text transform="translate(37.00,166.41) scale(0.95,1.08)" text-anchor="end" font-family="Liberation Serif, serif" font-size="11" fill="#111" stroke="#111" stroke-width="0.16">-40</text>
<text transform="translate(37.00,204.00) scale(0.95,1.08)" text-anchor="end" font-family="Liberation Serif, serif" font-size="11" fill="#111" stroke="#111" stroke-width="0.16">-50</text>
<line x1="41.20" y1="31.15" x2="43.80" y2="31.15" stroke="#3a3a3a" stroke-width="1.15"/>
<line x1="41.20" y1="68.74" x2="43.80" y2="68.74" stroke="#3a3a3a" stroke-width="1.15"/>
<line x1="41.20" y1="106.33" x2="43.80" y2="106.33" stroke="#3a3a3a" stroke-width="1.15"/>
<line x1="41.20" y1="143.92" x2="43.80" y2="143.92" stroke="#3a3a3a" stroke-width="1.15"/>
<line x1="41.20" y1="181.51" x2="43.80" y2="181.51" stroke="#3a3a3a" stroke-width="1.15"/>
<text transform="translate(396.50,214.00) scale(0.95,1.08)" text-anchor="middle" font-family="Liberation Serif, serif" font-size="11" fill="#111" stroke="#111" stroke-width="0.16">4</text>
<line x1="414.86" y1="201.40" x2="414.86" y2="198.80" stroke="#3a3a3a" stroke-width="1.15"/>
<line x1="433.21" y1="201.40" x2="433.21" y2="197.30" stroke="#3a3a3a" stroke-width="1.15"/>
<text transform="translate(433.21,214.00) scale(0.95,1.08)" text-anchor="middle" font-family="Liberation Serif, serif" font-size="11" fill="#111" stroke="#111" stroke-width="0.16">6</text>
<line x1="451.57" y1="201.40" x2="451.57" y2="198.80" stroke="#3a3a3a" stroke-width="1.15"/>
<line x1="469.93" y1="201.40" x2="469.93" y2="197.30" stroke="#3a3a3a" stroke-width="1.15"/>
<text transform="translate(469.93,214.00) scale(0.95,1.08)" text-anchor="middle" font-family="Liberation Serif, serif" font-size="11" fill="#111" stroke="#111" stroke-width="0.16">8</text>
<line x1="488.29" y1="201.40" x2="488.29" y2="198.80" stroke="#3a3a3a" stroke-width="1.15"/>
<line x1="506.64" y1="201.40" x2="506.64" y2="197.30" stroke="#3a3a3a" stroke-width="1.15"/>
<text transform="translate(506.64,214.00) scale(0.95,1.08)" text-anchor="middle" font-family="Liberation Serif, serif" font-size="11" fill="#111" stroke="#111" stroke-width="0.16">10</text>
<line x1="525.00" y1="201.40" x2="525.00" y2="198.80" stroke="#3a3a3a" stroke-width="1.15"/>
<line x1="543.36" y1="201.40" x2="543.36" y2="197.30" stroke="#3a3a3a" stroke-width="1.15"/>
<text transform="translate(543.36,214.00) scale(0.95,1.08)" text-anchor="middle" font-family="Liberation Serif, serif" font-size="11" fill="#111" stroke="#111" stroke-width="0.16">12</text>
<line x1="561.71" y1="201.40" x2="561.71" y2="198.80" stroke="#3a3a3a" stroke-width="1.15"/>
<line x1="580.07" y1="201.40" x2="580.07" y2="197.30" stroke="#3a3a3a" stroke-width="1.15"/>
<text transform="translate(580.07,214.00) scale(0.95,1.08)" text-anchor="middle" font-family="Liberation Serif, serif" font-size="11" fill="#111" stroke="#111" stroke-width="0.16">14</text>
<line x1="598.43" y1="201.40" x2="598.43" y2="198.80" stroke="#3a3a3a" stroke-width="1.15"/>
<line x1="616.79" y1="201.40" x2="616.79" y2="197.30" stroke="#3a3a3a" stroke-width="1.15"/>
<text transform="translate(616.79,214.00) scale(0.95,1.08)" text-anchor="middle" font-family="Liberation Serif, serif" font-size="11" fill="#111" stroke="#111" stroke-width="0.16">16</text>
<line x1="635.14" y1="201.40" x2="635.14" y2="198.80" stroke="#3a3a3a" stroke-width="1.15"/>
<text transform="translate(653.50,214.00) scale(0.95,1.08)" text-anchor="middle" font-family="Liberation Serif, serif" font-size="11" fill="#111" stroke="#111" stroke-width="0.16">18</text>
<line x1="396.50" y1="13.65" x2="400.60" y2="13.65" stroke="#3a3a3a" stroke-width="1.15"/>
<text transform="translate(392.30,17.35) scale(0.95,1.08)" text-anchor="end" font-family="Liberation Serif, serif" font-size="11" fill="#111" stroke="#111" stroke-width="0.16">0</text>
<line x1="396.50" y1="51.20" x2="400.60" y2="51.20" stroke="#3a3a3a" stroke-width="1.15"/>
<text transform="translate(392.30,54.90) scale(0.95,1.08)" text-anchor="end" font-family="Liberation Serif, serif" font-size="11" fill="#111" stroke="#111" stroke-width="0.16">-10</text>
<line x1="396.50" y1="88.75" x2="400.60" y2="88.75" stroke="#3a3a3a" stroke-width="1.15"/>
<text transform="translate(392.30,92.45) scale(0.95,1.08)" text-anchor="end" font-family="Liberation Serif, serif" font-size="11" fill="#111" stroke="#111" stroke-width="0.16">-20</text>
<line x1="396.50" y1="126.30" x2="400.60" y2="126.30" stroke="#3a3a3a" stroke-width="1.15"/>
<text transform="translate(392.30,130.00) scale(0.95,1.08)" text-anchor="end" font-family="Liberation Serif, serif" font-size="11" fill="#111" stroke="#111" stroke-width="0.16">-30</text>
<line x1="396.50" y1="163.85" x2="400.60" y2="163.85" stroke="#3a3a3a" stroke-width="1.15"/>
<text transform="translate(392.30,167.55) scale(0.95,1.08)" text-anchor="end" font-family="Liberation Serif, serif" font-size="11" fill="#111" stroke="#111" stroke-width="0.16">-40</text>
<text transform="translate(392.30,205.10) scale(0.95,1.08)" text-anchor="end" font-family="Liberation Serif, serif" font-size="11" fill="#111" stroke="#111" stroke-width="0.16">-50</text>
<line x1="396.50" y1="32.43" x2="399.10" y2="32.43" stroke="#3a3a3a" stroke-width="1.15"/>
<line x1="396.50" y1="69.98" x2="399.10" y2="69.98" stroke="#3a3a3a" stroke-width="1.15"/>
<line x1="396.50" y1="107.53" x2="399.10" y2="107.53" stroke="#3a3a3a" stroke-width="1.15"/>
<line x1="396.50" y1="145.08" x2="399.10" y2="145.08" stroke="#3a3a3a" stroke-width="1.15"/>
<line x1="396.50" y1="182.63" x2="399.10" y2="182.63" stroke="#3a3a3a" stroke-width="1.15"/>
<text transform="translate(215.50,494.80) scale(0.95,1.08)" text-anchor="middle" font-family="Liberation Serif, serif" font-size="11" fill="#111" stroke="#111" stroke-width="0.16">4</text>
<line x1="233.86" y1="482.20" x2="233.86" y2="479.60" stroke="#3a3a3a" stroke-width="1.15"/>
<line x1="252.21" y1="482.20" x2="252.21" y2="478.10" stroke="#3a3a3a" stroke-width="1.15"/>
<text transform="translate(252.21,494.80) scale(0.95,1.08)" text-anchor="middle" font-family="Liberation Serif, serif" font-size="11" fill="#111" stroke="#111" stroke-width="0.16">6</text>
<line x1="270.57" y1="482.20" x2="270.57" y2="479.60" stroke="#3a3a3a" stroke-width="1.15"/>
<line x1="288.93" y1="482.20" x2="288.93" y2="478.10" stroke="#3a3a3a" stroke-width="1.15"/>
<text transform="translate(288.93,494.80) scale(0.95,1.08)" text-anchor="middle" font-family="Liberation Serif, serif" font-size="11" fill="#111" stroke="#111" stroke-width="0.16">8</text>
<line x1="307.29" y1="482.20" x2="307.29" y2="479.60" stroke="#3a3a3a" stroke-width="1.15"/>
<line x1="325.64" y1="482.20" x2="325.64" y2="478.10" stroke="#3a3a3a" stroke-width="1.15"/>
<text transform="translate(325.64,494.80) scale(0.95,1.08)" text-anchor="middle" font-family="Liberation Serif, serif" font-size="11" fill="#111" stroke="#111" stroke-width="0.16">10</text>
<line x1="344.00" y1="482.20" x2="344.00" y2="479.60" stroke="#3a3a3a" stroke-width="1.15"/>
<line x1="362.36" y1="482.20" x2="362.36" y2="478.10" stroke="#3a3a3a" stroke-width="1.15"/>
<text transform="translate(362.36,494.80) scale(0.95,1.08)" text-anchor="middle" font-family="Liberation Serif, serif" font-size="11" fill="#111" stroke="#111" stroke-width="0.16">12</text>
<line x1="380.71" y1="482.20" x2="380.71" y2="479.60" stroke="#3a3a3a" stroke-width="1.15"/>
<line x1="399.07" y1="482.20" x2="399.07" y2="478.10" stroke="#3a3a3a" stroke-width="1.15"/>
<text transform="translate(399.07,494.80) scale(0.95,1.08)" text-anchor="middle" font-family="Liberation Serif, serif" font-size="11" fill="#111" stroke="#111" stroke-width="0.16">14</text>
<line x1="417.43" y1="482.20" x2="417.43" y2="479.60" stroke="#3a3a3a" stroke-width="1.15"/>
<line x1="435.79" y1="482.20" x2="435.79" y2="478.10" stroke="#3a3a3a" stroke-width="1.15"/>
<text transform="translate(435.79,494.80) scale(0.95,1.08)" text-anchor="middle" font-family="Liberation Serif, serif" font-size="11" fill="#111" stroke="#111" stroke-width="0.16">16</text>
<line x1="454.14" y1="482.20" x2="454.14" y2="479.60" stroke="#3a3a3a" stroke-width="1.15"/>
<text transform="translate(472.50,494.80) scale(0.95,1.08)" text-anchor="middle" font-family="Liberation Serif, serif" font-size="11" fill="#111" stroke="#111" stroke-width="0.16">18</text>
<text transform="translate(211.30,294.70) scale(0.95,1.08)" text-anchor="end" font-family="Liberation Serif, serif" font-size="11" fill="#111" stroke="#111" stroke-width="0.16">0</text>
<line x1="215.50" y1="320.42" x2="219.60" y2="320.42" stroke="#3a3a3a" stroke-width="1.15"/>
<text transform="translate(211.30,324.12) scale(0.95,1.08)" text-anchor="end" font-family="Liberation Serif, serif" font-size="11" fill="#111" stroke="#111" stroke-width="0.16">-4</text>
<line x1="215.50" y1="349.83" x2="219.60" y2="349.83" stroke="#3a3a3a" stroke-width="1.15"/>
<text transform="translate(211.30,353.53) scale(0.95,1.08)" text-anchor="end" font-family="Liberation Serif, serif" font-size="11" fill="#111" stroke="#111" stroke-width="0.16">-8</text>
<line x1="215.50" y1="379.25" x2="219.60" y2="379.25" stroke="#3a3a3a" stroke-width="1.15"/>
<text transform="translate(211.30,382.95) scale(0.95,1.08)" text-anchor="end" font-family="Liberation Serif, serif" font-size="11" fill="#111" stroke="#111" stroke-width="0.16">-12</text>
<line x1="215.50" y1="408.66" x2="219.60" y2="408.66" stroke="#3a3a3a" stroke-width="1.15"/>
<text transform="translate(211.30,412.36) scale(0.95,1.08)" text-anchor="end" font-family="Liberation Serif, serif" font-size="11" fill="#111" stroke="#111" stroke-width="0.16">-16</text>
<line x1="215.50" y1="438.08" x2="219.60" y2="438.08" stroke="#3a3a3a" stroke-width="1.15"/>
<text transform="translate(211.30,441.78) scale(0.95,1.08)" text-anchor="end" font-family="Liberation Serif, serif" font-size="11" fill="#111" stroke="#111" stroke-width="0.16">-20</text>
<line x1="215.50" y1="467.49" x2="219.60" y2="467.49" stroke="#3a3a3a" stroke-width="1.15"/>
<text transform="translate(211.30,471.19) scale(0.95,1.08)" text-anchor="end" font-family="Liberation Serif, serif" font-size="11" fill="#111" stroke="#111" stroke-width="0.16">-24</text>
<line x1="215.50" y1="305.71" x2="218.10" y2="305.71" stroke="#3a3a3a" stroke-width="1.15"/>
<line x1="215.50" y1="335.12" x2="218.10" y2="335.12" stroke="#3a3a3a" stroke-width="1.15"/>
<line x1="215.50" y1="364.54" x2="218.10" y2="364.54" stroke="#3a3a3a" stroke-width="1.15"/>
<line x1="215.50" y1="393.95" x2="218.10" y2="393.95" stroke="#3a3a3a" stroke-width="1.15"/>
<line x1="215.50" y1="423.37" x2="218.10" y2="423.37" stroke="#3a3a3a" stroke-width="1.15"/>
<line x1="215.50" y1="452.78" x2="218.10" y2="452.78" stroke="#3a3a3a" stroke-width="1.15"/>
</svg></div>
</body></html>
